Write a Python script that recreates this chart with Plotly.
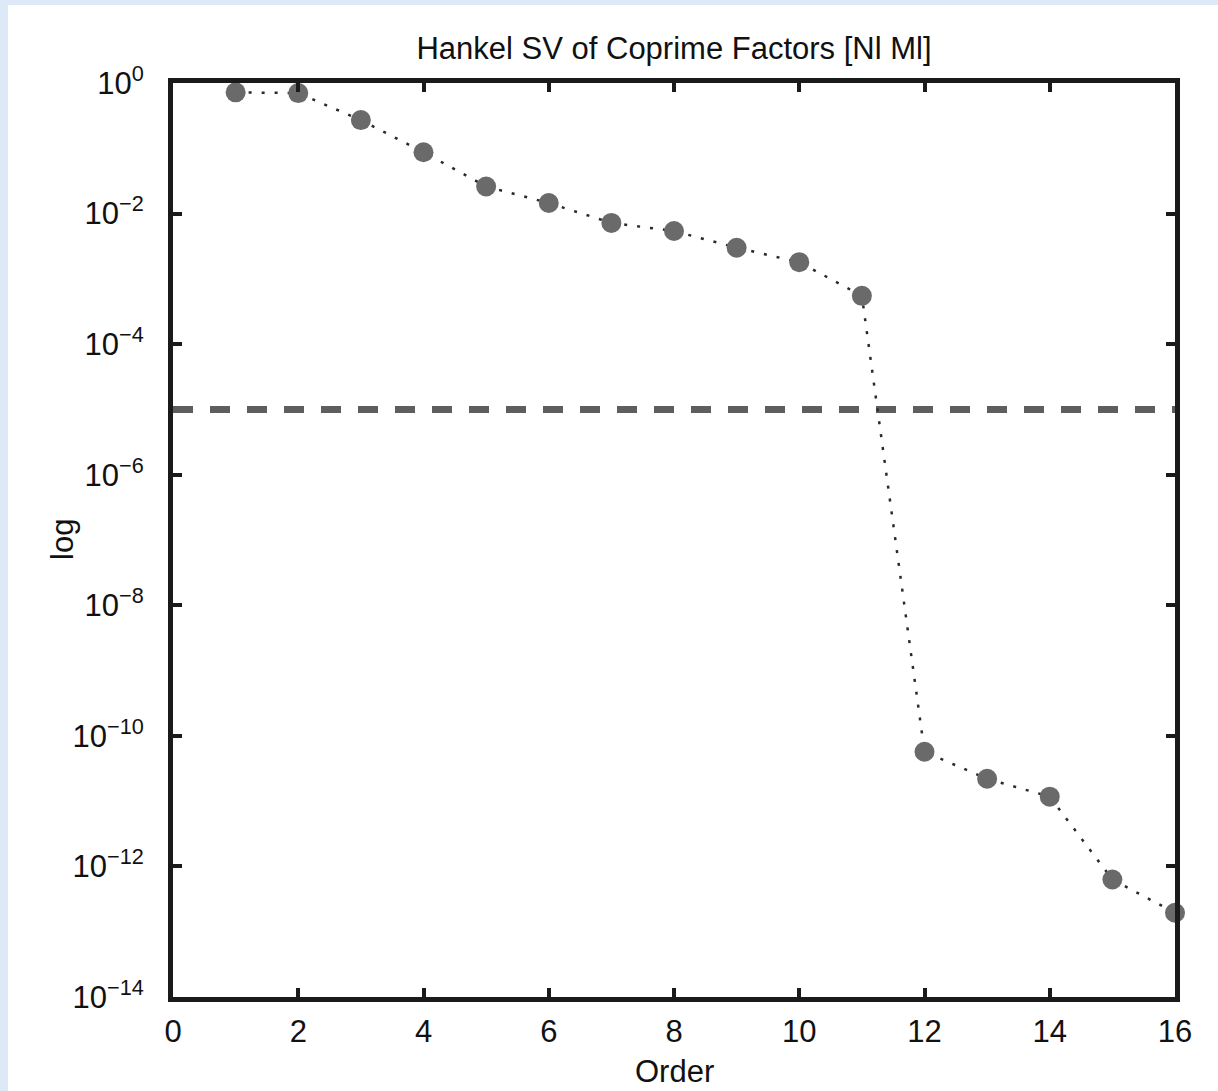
import plotly.graph_objects as go

order = list(range(1, 17))
hankel_sv = [0.72, 0.70, 0.27, 0.087, 0.026, 0.0145, 0.0072, 0.0054,
             0.0030, 0.0018, 5.5e-4, 5.7e-11, 2.2e-11, 1.17e-11, 6.3e-13, 1.95e-13]
threshold_x = [0, 16]
threshold_y = [1e-5, 1e-5]
x_ticks = list(range(0, 17, 2))
y_tick_exps = [0, -2, -4, -6, -8, -10, -12, -14]

W, H = 1218, 1091
L, R, T, B = 173, 1175, 83, 997
pw, ph = R - L, B - T

fig = go.Figure()
fig.add_trace(go.Scatter(
    x=threshold_x, y=threshold_y, mode="lines",
    line=dict(color="#5e5e5e", width=7, dash="20px,17px"),
    showlegend=False, hoverinfo="skip"))
fig.add_trace(go.Scatter(
    x=order, y=hankel_sv, mode="lines+markers",
    line=dict(color="#2a2a2a", width=2.5, dash="3px,10px"),
    marker=dict(color="#6a6a6a", size=20, line=dict(width=0)),
    cliponaxis=False, showlegend=False))

font = "Liberation Sans, Arial, Helvetica, sans-serif"
FS = 31

fig.update_layout(
    width=W, height=H,
    margin=dict(l=L, r=W - R, t=T, b=H - B),
    paper_bgcolor="#dde9f7",
    plot_bgcolor="white",
    font=dict(family=font, size=FS, color="#111111"),
    title=dict(text="Hankel SV of Coprime Factors [Nl Ml]", x=(L + R) / 2 / W, xanchor="center",
               y=1 - 48 / H, yanchor="middle", yref="container", font=dict(size=FS)),
    shapes=[dict(type="rect", xref="paper", yref="paper", layer="below",
                 x0=(8 - L) / pw, x1=(W + 5 - L) / pw,
                 y0=(B - H - 5) / ph, y1=(B - 5) / ph,
                 fillcolor="white", line=dict(width=0))],
    annotations=[
        dict(text="log", x=(62 - L) / pw, y=(B - 540) / ph, xref="paper", yref="paper",
             xanchor="center", yanchor="middle",
             showarrow=False, textangle=-90, font=dict(size=FS)),
        dict(text="Order", x=0.5, y=(B - 1071) / ph, xref="paper", yref="paper",
             xanchor="center", yanchor="middle",
             showarrow=False, font=dict(size=FS)),
    ],
)
fig.update_xaxes(range=[0, 16], tickvals=x_ticks, ticktext=[str(v) for v in x_ticks],
                 showgrid=False, zeroline=False, showline=True, linewidth=5, linecolor="#1a1a1a",
                 mirror="allticks", ticks="inside", ticklen=9, tickwidth=4, tickcolor="#1a1a1a",
                 ticklabelstandoff=3)
fig.update_yaxes(type="log", range=[-14, 0],
                 tickvals=[10.0 ** e for e in y_tick_exps],
                 ticktext=["10<sup>%s</sup>" % (str(e) if e == 0 else "\u2212" + str(-e)) for e in y_tick_exps],
                 showgrid=False, zeroline=False, showline=True, linewidth=5, linecolor="#1a1a1a",
                 mirror="allticks", ticks="inside", ticklen=9, tickwidth=4, tickcolor="#1a1a1a",
                 ticklabelstandoff=18)

fig.write_html("out.html")
